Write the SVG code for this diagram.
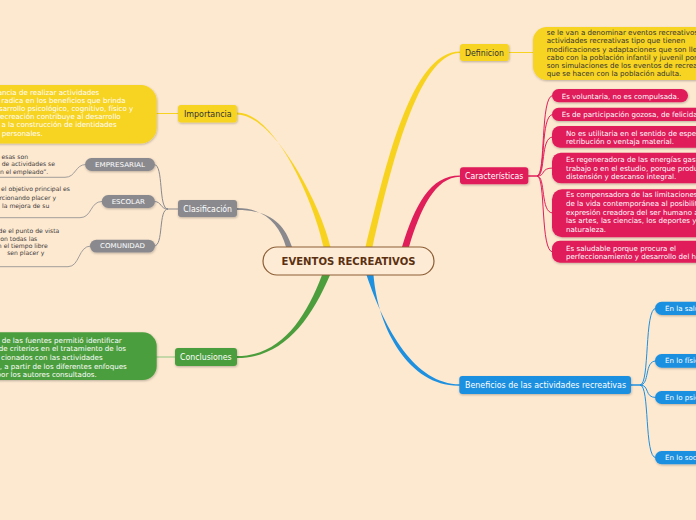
<svg xmlns="http://www.w3.org/2000/svg" width="696" height="520" viewBox="0 0 696 520">
<defs>
<filter id="sh" x="-10%" y="-20%" width="130%" height="160%">
<feDropShadow dx="0.5" dy="1" stdDeviation="0.8" flood-color="#000" flood-opacity="0.25"/>
</filter>
</defs>
<style>
text{font-family:"DejaVu Sans","Liberation Sans",sans-serif}
.lbl{font-size:8px}
.sm{font-size:7.1px}
.xs{font-size:6.1px;fill:#3a3a3a}
.w{fill:#ffffff}
.d{fill:#333333}
.thin{fill:none;stroke-width:1}
</style>
<rect width="696" height="520" fill="#fde8d0"/>

<g id="connectors">
<path d="M237,112.5 C276,112.5 315,205 323.5,247 L330.5,247 C321,205 274,114.5 237,114.5 Z" fill="#f7d320"/>
<path d="M237,208 C265,208 280,225 286,247 L292,247 C284,222 268,210 237,210 Z" fill="#8a8a8e"/>
<path d="M237,356 C280,356 305,320 322,275 L330,275 C310,322 282,358 237,358 Z" fill="#4c9e3c"/>
<path d="M365.5,247 C385,170 410,51.5 460,51.5 L460,53 C418,53 390,170 372.5,247 Z" fill="#f7d320"/>
<path d="M402,247 C415,205 430,175.5 460,175.5 L460,176.8 C435,177 420,210 409,247 Z" fill="#e01e5a"/>
<path d="M366.5,275 C385,330 415,384.3 460,384.3 L460,385.7 C410,387 378,330 373.5,275 Z" fill="#1e90e0"/>

<path class="thin" d="M156,113.5 L178,113.5" stroke="#f7d320"/>
<path class="thin" d="M509,52.5 L533,52.5" stroke="#f7d320"/>
<path class="thin" d="M156,357 L175,357" stroke="#8fc67f"/>

<g stroke="#8a8a8e" class="thin">
<path d="M178,209 L167,209"/>
<path d="M168,209 C158,209 164,164.5 154,164.5"/>
<path d="M168,209 C160,209 162,201.5 154,201.5"/>
<path d="M168,209 C158,209 164,246 154,246"/>
<path d="M0,177.3 L65,177.3 C76,177.3 75,164.5 86,164.5" stroke-width="0.8"/>
<path d="M0,217.7 L80,217.7 C92,217.7 90,201.5 102,201.5" stroke-width="0.8"/>
<path d="M0,266.7 L68,266.7 C80,266.7 78,246 91,246" stroke-width="0.8"/>
</g>

<g stroke="#e01e5a" class="thin">
<path d="M528,176 L538,176" stroke-width="1.5"/>
<path d="M537,176 C546,176 540,95.5 553,95.5"/>
<path d="M537,176 C546,176 540,114.5 553,114.5"/>
<path d="M537,176 C546,176 540,137 553,137"/>
<path d="M537,176 C546,176 540,168 553,168"/>
<path d="M537,176 C546,176 540,213 553,213"/>
<path d="M537,176 C546,176 540,252 553,252"/>
</g>

<g stroke="#1e90e0" class="thin">
<path d="M631,385 L641,385" stroke-width="1.5"/>
<path d="M640,385 C650,385 644,308.3 656,308.3"/>
<path d="M640,385 C650,385 644,361 656,361"/>
<path d="M640,385 C650,385 644,397.5 656,397.5"/>
<path d="M640,385 C650,385 644,457.7 656,457.7"/>
</g>
</g>

<g id="central">
<rect x="263" y="247" width="171" height="28" rx="14" fill="#fdebd6" stroke="#8b5e34" stroke-width="1.2"/>
<text x="348.5" y="264.5" text-anchor="middle" font-size="10" font-weight="bold" fill="#5a3010" textLength="134" lengthAdjust="spacingAndGlyphs">EVENTOS RECREATIVOS</text>
</g>

<g id="importancia">
<rect x="178" y="105" width="59" height="17.5" rx="3" fill="#f7d320" filter="url(#sh)"/>
<text class="lbl d" x="207.8" y="116.8" text-anchor="middle" textLength="47.7" lengthAdjust="spacingAndGlyphs">Importancia</text>
</g>
<g id="importancia-texto">
<rect x="-30" y="85" width="186.7" height="58.5" rx="16" fill="#f7d320" filter="url(#sh)"/>
<g class="sm w" text-anchor="end">
<text x="99.3" y="95">ancia de realizar actividades</text>
<text x="125.7" y="103.1">as, radica en los beneficios que brinda</text>
<text x="133.3" y="111.2">esarrollo psicológico, cognitivo, físico y</text>
<text x="120.7" y="119.3">recreación contribuye al desarrollo</text>
<text x="116.7" y="127.4">a la construcción de identidades</text>
<text x="42.7" y="135.5">personales.</text>
</g>
</g>

<g id="clasificacion">
<rect x="178" y="200" width="59" height="17" rx="3" fill="#8a8a8e" filter="url(#sh)"/>
<text class="lbl w" x="207.7" y="211.6" text-anchor="middle" textLength="48.7" lengthAdjust="spacingAndGlyphs">Clasificación</text>
</g>
<g id="empresarial">
<rect x="85" y="158" width="70" height="13" rx="6.5" fill="#8a8a8e" filter="url(#sh)"/>
<text x="120" y="166.6" font-size="6.6" class="w" text-anchor="middle" textLength="50" lengthAdjust="spacingAndGlyphs">EMPRESARIAL</text>
<g class="xs" text-anchor="end">
<text x="28" y="158.8">esas son</text>
<text x="55" y="166.2">s de actividades se</text>
<text x="48.3" y="173.8">n el empleado”.</text>
</g>
</g>
<g id="escolar">
<rect x="101.7" y="195" width="53.3" height="13" rx="6.5" fill="#8a8a8e" filter="url(#sh)"/>
<text x="128.3" y="204" font-size="6.6" class="w" text-anchor="middle" textLength="33.3" lengthAdjust="spacingAndGlyphs">ESCOLAR</text>
<g class="xs" text-anchor="end">
<text x="70" y="191.4">el objetivo principal es</text>
<text x="56" y="199.8">rcionando placer y</text>
<text x="49.3" y="208.1">la mejora de su</text>
</g>
</g>
<g id="comunidad">
<rect x="90" y="239.7" width="65" height="12.8" rx="6.4" fill="#8a8a8e" filter="url(#sh)"/>
<text x="122.5" y="248.4" font-size="6.6" class="w" text-anchor="middle" textLength="45" lengthAdjust="spacingAndGlyphs">COMUNIDAD</text>
<g class="xs" text-anchor="end">
<text x="59.3" y="233.1">de el punto de vista</text>
<text x="37.3" y="240.8">on todas las</text>
<text x="47.7" y="247.8">n el tiempo libre</text>
<text x="44.3" y="255.4">sen placer y</text>
</g>
</g>

<g id="conclusiones">
<rect x="175" y="348" width="62" height="18" rx="3" fill="#4c9e3c" filter="url(#sh)"/>
<text class="lbl w" x="205.8" y="359.6" text-anchor="middle" textLength="51.7" lengthAdjust="spacingAndGlyphs">Conclusiones</text>
</g>
<g id="conclusiones-texto">
<rect x="-30" y="332.3" width="186.7" height="47.7" rx="14" fill="#4c9e3c" filter="url(#sh)"/>
<g class="sm w" text-anchor="end">
<text x="121.7" y="342.5">de las fuentes permitió identificar</text>
<text x="126" y="351.2">de criterios en el tratamiento de los</text>
<text x="102.7" y="359.9">cionados con las actividades</text>
<text x="126.7" y="368.6">s, a partir de los diferentes enfoques</text>
<text x="96.7" y="377.3">por los autores consultados.</text>
</g>
</g>

<g id="definicion">
<rect x="460" y="44" width="49" height="17" rx="3" fill="#f7d320" filter="url(#sh)"/>
<text class="lbl d" x="484.5" y="55.8" text-anchor="middle" textLength="39" lengthAdjust="spacingAndGlyphs">Definicion</text>
</g>
<g id="definicion-texto">
<rect x="533" y="27" width="200" height="53" rx="14" fill="#f7d320" filter="url(#sh)"/>
<g class="sm d">
<text x="546.7" y="35.3">se le van a denominar eventos recreativos a las</text>
<text x="546.7" y="43.4">actividades recreativas tipo que tienen</text>
<text x="546.7" y="51.5">modificaciones y adaptaciones que son llevadas a</text>
<text x="546.7" y="59.6">cabo con la población infantil y juvenil por lo que</text>
<text x="546.7" y="67.7">son simulaciones de los eventos de recreación</text>
<text x="546.7" y="75.8">que se hacen con la población adulta.</text>
</g>
</g>

<g id="caracteristicas">
<rect x="460" y="167.3" width="68.3" height="17" rx="3" fill="#e01e5a" filter="url(#sh)"/>
<text class="lbl w" x="494.2" y="178.6" text-anchor="middle" textLength="58.3" lengthAdjust="spacingAndGlyphs">Características</text>
</g>
<g id="c1">
<rect x="552" y="89" width="136" height="13.3" rx="6.6" fill="#e01e5a" filter="url(#sh)"/>
<text class="sm w" x="561.7" y="98.9">Es voluntaria, no es compulsada.</text>
</g>
<g id="c2">
<rect x="552" y="107.7" width="170" height="13.3" rx="6.6" fill="#e01e5a" filter="url(#sh)"/>
<text class="sm w" x="561.7" y="117.4">Es de participación gozosa, de felicidad.</text>
</g>
<g id="c3">
<rect x="552" y="126" width="170" height="21.7" rx="8" fill="#e01e5a" filter="url(#sh)"/>
<g class="sm w">
<text x="566" y="135.6">No es utilitaria en el sentido de esperar una</text>
<text x="566" y="144">retribución o ventaja material.</text>
</g>
</g>
<g id="c4">
<rect x="552" y="152.7" width="170" height="30.6" rx="9" fill="#e01e5a" filter="url(#sh)"/>
<g class="sm w">
<text x="566" y="162.3">Es regeneradora de las energías gastadas en el</text>
<text x="566" y="170.6">trabajo o en el estudio, porque produce</text>
<text x="566" y="179">distensión y descanso integral.</text>
</g>
</g>
<g id="c5">
<rect x="552" y="189.3" width="170" height="48" rx="10" fill="#e01e5a" filter="url(#sh)"/>
<g class="sm w">
<text x="566" y="197.3">Es compensadora de las limitaciones</text>
<text x="566" y="206">de la vida contemporánea al posibilitar la</text>
<text x="566" y="214.6">expresión creadora del ser humano a través de</text>
<text x="566" y="223.3">las artes, las ciencias, los deportes y la</text>
<text x="566" y="232">naturaleza.</text>
</g>
</g>
<g id="c6">
<rect x="552" y="240.7" width="170" height="22" rx="8" fill="#e01e5a" filter="url(#sh)"/>
<g class="sm w">
<text x="566" y="251.3">Es saludable porque procura el</text>
<text x="566" y="259">perfeccionamiento y desarrollo del hombre.</text>
</g>
</g>

<g id="beneficios">
<rect x="459.3" y="376" width="171.7" height="18" rx="3" fill="#1e90e0" filter="url(#sh)"/>
<text class="lbl w" x="545.5" y="387.8" text-anchor="middle" textLength="161" lengthAdjust="spacingAndGlyphs">Beneficios de las actividades recreativas</text>
</g>
<g id="b1">
<rect x="655" y="301.7" width="60" height="13.3" rx="6.6" fill="#1e90e0" filter="url(#sh)"/>
<text class="sm w" x="665" y="310.8">En la salud</text>
</g>
<g id="b2">
<rect x="655" y="354" width="60" height="13.7" rx="6.6" fill="#1e90e0" filter="url(#sh)"/>
<text class="sm w" x="665" y="363.4">En lo físico</text>
</g>
<g id="b3">
<rect x="655" y="391" width="60" height="13" rx="6.5" fill="#1e90e0" filter="url(#sh)"/>
<text class="sm w" x="665" y="400">En lo psicológico</text>
</g>
<g id="b4">
<rect x="655" y="451" width="60" height="13.3" rx="6.6" fill="#1e90e0" filter="url(#sh)"/>
<text class="sm w" x="665" y="460.2">En lo social</text>
</g>
</svg>
